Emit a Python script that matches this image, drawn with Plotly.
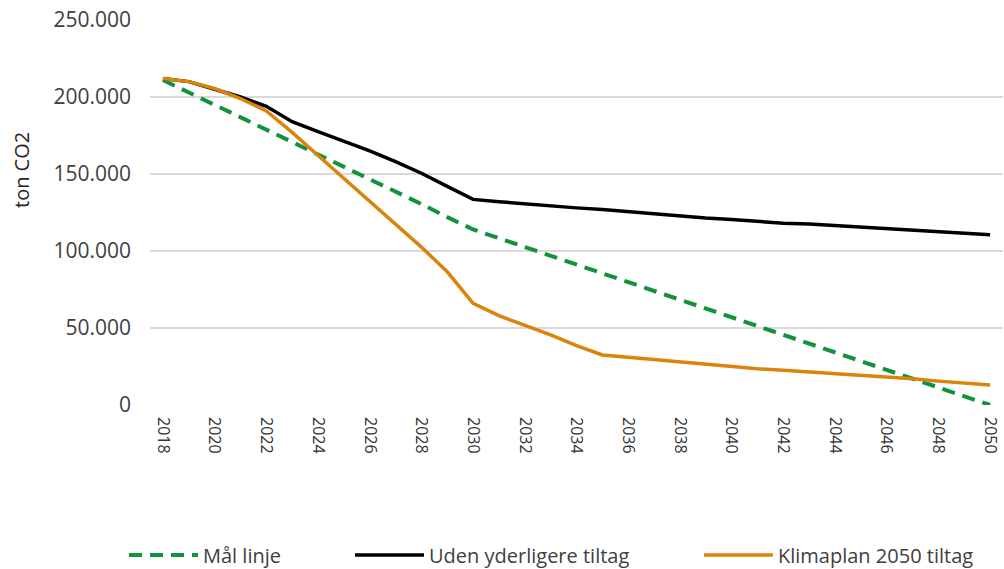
import plotly.graph_objects as go

years = list(range(2018, 2051))

maal_linje = [211000, 203000, 195000, 187000, 179000, 171000, 163000, 154500,
              146500, 138500, 130500, 122000, 114000, 108300, 102600, 96900,
              91200, 85500, 79800, 74100, 68400, 62700, 57000, 51300, 45600,
              39900, 34200, 28500, 22800, 17100, 11400, 5700, 0]

uden_tiltag = [212000, 210000, 205000, 200000, 194000, 184000, 177500, 171500,
               165000, 158000, 150500, 142000, 133500, 132000, 130500, 129500,
               128000, 127000, 125500, 124000, 123000, 121500, 120500, 119000,
               118000, 117500, 116500, 115500, 114500, 113000, 112000, 111500,
               110500]

klimaplan = [212000, 210000, 205500, 199000, 191000, 177000, 162000, 147000,
             132000, 117000, 102500, 86500, 66000, 58000, 52000, 45500, 38500,
             32500, 31000, 29500, 28000, 26000, 24500, 23500, 22500, 21500,
             20500, 19500, 18500, 17000, 15500, 14500, 13000]

y_ticks = [0, 50000, 100000, 150000, 200000, 250000]
y_tick_labels = ["0", "50.000", "100.000", "150.000", "200.000", "250.000"]
x_ticks = list(range(2018, 2051, 2))

GREEN = "#12923c"
BLACK = "#000000"
ORANGE = "#da840c"

fig = go.Figure()
fig.add_trace(go.Scatter(x=years, y=maal_linje, mode="lines", name="Mål linje",
                         line=dict(color=GREEN, width=4, dash="13px,8px"),
                         legend="legend"))
fig.add_trace(go.Scatter(x=years, y=uden_tiltag, mode="lines",
                         name="Uden yderligere tiltag",
                         line=dict(color=BLACK, width=3.5), legend="legend2"))
fig.add_trace(go.Scatter(x=years, y=klimaplan, mode="lines",
                         name="Klimaplan 2050 tiltag",
                         line=dict(color=ORANGE, width=3.5), legend="legend3"))

leg_common = dict(orientation="h", xref="container", yref="container",
                  yanchor="middle", xanchor="left", y=(569 - 555) / 569,
                  font=dict(family="Open Sans", size=20, color="#404040"),
                  itemwidth=69, bgcolor="rgba(0,0,0,0)")

fig.update_layout(
    width=1004, height=569,
    margin=dict(l=150, r=1, t=20, b=164),
    paper_bgcolor="white", plot_bgcolor="white",
    font=dict(family="Open Sans", size=14, color="#404040"),
    showlegend=True,
    legend=dict(**leg_common, x=124 / 1004),
    legend2=dict(**leg_common, x=350 / 1004),
    legend3=dict(**leg_common, x=699 / 1004),
    xaxis=dict(range=[2017.5, 2050.5], tickmode="array", tickvals=x_ticks,
               ticktext=[str(v) for v in x_ticks], tickangle=90,
               showgrid=False, zeroline=False, showline=False, ticks="",
               tickfont=dict(size=16, color="#333333"), ticklabelstandoff=11),
    yaxis=dict(range=[0, 250000], tickmode="array", tickvals=y_ticks,
               ticktext=y_tick_labels, showgrid=True, gridcolor="#d9d9d9",
               gridwidth=1.5, zeroline=False, showline=False, ticks="",
               tickfont=dict(size=21, color="#404040"), ticklabelstandoff=18),
    annotations=[dict(text="ton CO2", xref="paper", yref="paper",
                      x=(21 - 150) / 853, y=(405 - 170) / 385,
                      xanchor="center", yanchor="middle",
                      textangle=-90, showarrow=False,
                      font=dict(size=20, color="#262626"))],
)

fig.write_html("out.html",
               config={"displayModeBar": False},
               post_script="document.body.style.margin='0';"
                           "document.body.style.padding='0';")
